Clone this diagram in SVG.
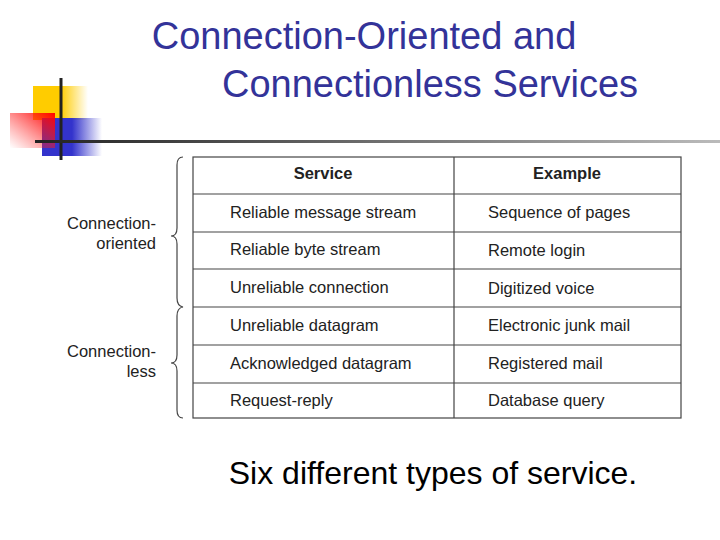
<svg xmlns="http://www.w3.org/2000/svg" width="720" height="540" viewBox="0 0 720 540">
<defs>
<linearGradient id="gy" x1="0" x2="1"><stop offset="0.5" stop-color="#ffcc00"/><stop offset="1" stop-color="#ffcc00" stop-opacity="0"/></linearGradient>
<linearGradient id="gb" x1="0" x2="1"><stop offset="0.5" stop-color="#3333cc"/><stop offset="1" stop-color="#3333cc" stop-opacity="0"/></linearGradient>
<linearGradient id="gr" x1="1" y1="0" x2="0" y2="1"><stop offset="0" stop-color="#ff0000"/><stop offset="1" stop-color="#ff3333" stop-opacity="0"/></linearGradient>
<linearGradient id="gl" x1="0" x2="1"><stop offset="0" stop-color="#222"/><stop offset="1" stop-color="#bbb"/></linearGradient>
<style>
.t{font-family:"Liberation Sans",Arial,sans-serif;}
.h{font-size:38px;fill:#333399;}
.c{font-size:16.5px;fill:#222;}
.b{font-weight:bold;}
.ln{stroke:#444;stroke-width:1.2;fill:none;}
</style>
</defs>
<g id="decor">
<rect x="33" y="86" width="55" height="34" fill="url(#gy)"/>
<rect x="42" y="118" width="60" height="38" fill="url(#gb)"/>
<rect x="10" y="113" width="45" height="35" fill="url(#gr)"/>
<line x1="61" y1="78" x2="61" y2="160" stroke="#222" stroke-width="3"/>
<rect x="35" y="140" width="685" height="3" fill="url(#gl)"/>
</g>
<g id="title" class="t h">
<text x="364" y="49" text-anchor="middle">Connection-Oriented and</text>
<text x="222" y="97">Connectionless Services</text>
</g>
<g id="table" class="t c">
<rect x="193" y="157" width="488" height="261" class="ln"/>
<path class="ln" d="M193 194H681M193 232H681M193 269H681M193 307H681M193 345H681M193 383H681M454 157V418"/>
<text x="323" y="179" text-anchor="middle" class="b">Service</text>
<text x="567" y="179" text-anchor="middle" class="b">Example</text>
<text x="230" y="218">Reliable message stream</text>
<text x="230" y="255">Reliable byte stream</text>
<text x="230" y="293">Unreliable connection</text>
<text x="230" y="331">Unreliable datagram</text>
<text x="230" y="369">Acknowledged datagram</text>
<text x="230" y="406">Request-reply</text>
<text x="488" y="218">Sequence of pages</text>
<text x="488" y="256">Remote login</text>
<text x="488" y="294">Digitized voice</text>
<text x="488" y="331">Electronic junk mail</text>
<text x="488" y="369">Registered mail</text>
<text x="488" y="406">Database query</text>
</g>
<g id="braces">
<path class="ln" d="M183 157Q177 157 177 165V228Q177 236 171 236Q177 236 177 244V298Q177 306 183 307Q177 308 177 316V355Q177 363 171 363Q177 363 177 371V410Q177 418 183 418"/>
<g class="t c" text-anchor="end">
<text x="156" y="229">Connection-</text>
<text x="156" y="249">oriented</text>
<text x="156" y="357">Connection-</text>
<text x="156" y="377">less</text>
</g>
</g>
<text class="t" x="433" y="484" text-anchor="middle" font-size="32" fill="#000">Six different types of service.</text>
</svg>
